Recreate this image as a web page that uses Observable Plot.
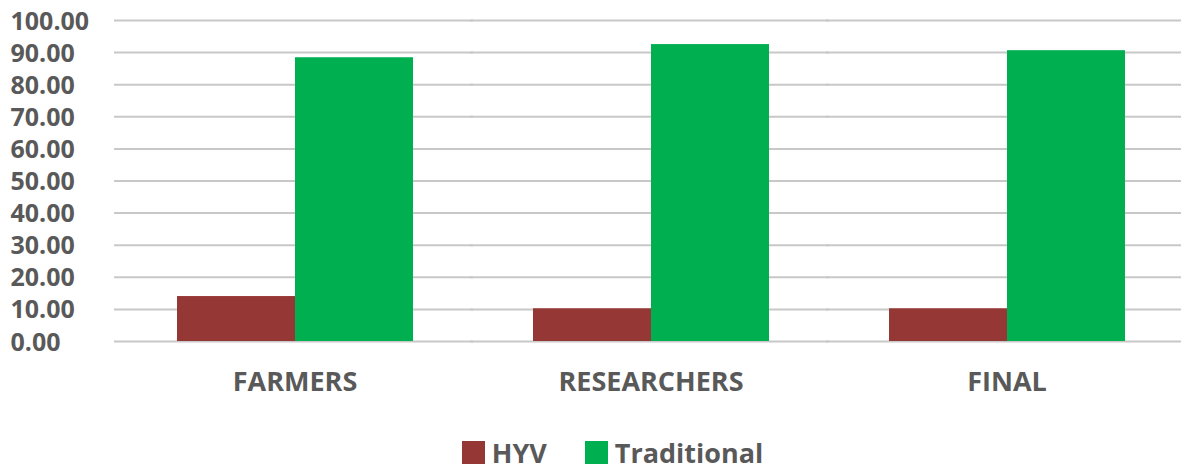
<!DOCTYPE html>
<html><head><meta charset="utf-8">
<script src="https://cdn.jsdelivr.net/npm/d3@7"></script>
<script src="https://cdn.jsdelivr.net/npm/@observablehq/plot@0.6"></script>
<style>
body{margin:0;background:#fff;font-family:"Open Sans",sans-serif;}
#legend{display:flex;justify-content:center;gap:38px;margin-top:29px;font:bold 27px "Open Sans",sans-serif;color:#595959;padding-left:44px}
#legend span{display:flex;align-items:center;gap:7px}
#legend i{display:inline-block;width:23px;height:23px}
</style></head><body>
<div id="chart"></div>
<script>
const categories = ["FARMERS", "RESEARCHERS", "FINAL"];
const series = ["HYV", "Traditional"];
const hyv = [14.0, 10.2, 10.2];
const traditional = [88.4, 92.5, 90.6];
const yTicks = [0, 10, 20, 30, 40, 50, 60, 70, 80, 90, 100];
const colors = ["#953735", "#00B050"];

const data = categories.flatMap((c, i) => [
  {category: c, series: "HYV", value: hyv[i]},
  {category: c, series: "Traditional", value: traditional[i]}
]);

const chart = Plot.plot({
  width: 1181,
  height: 405,
  marginLeft: 116,
  marginRight: -4,
  marginTop: 20,
  marginBottom: 64,
  style: {fontFamily: "Open Sans", color: "#595959", background: "#fff", overflow: "visible"},
  fx: {domain: categories, paddingInner: 0.335, paddingOuter: 0.168, label: null},
  x: {domain: series, padding: 0, axis: null},
  y: {domain: [0, 100], ticks: yTicks, label: null},
  color: {domain: series, range: colors},
  marks: [
    Plot.ruleY(yTicks, {stroke: "#c8c8c8", strokeWidth: 2, insetLeft: -62, insetRight: -60}),
    Plot.barY(data, {fx: "category", x: "series", y: "value", fill: "series"}),
    Plot.axisY(yTicks, {tickSize: 0, tickPadding: 0, textAnchor: "start", dx: -166, dy: 1,
      tickFormat: d => d.toFixed(2), fontSize: 25, fontWeight: "bold", fill: "#595959", label: null}),
    Plot.axisFx({anchor: "bottom", tickSize: 0, tickPadding: 30, fontSize: 27, fontWeight: "bold", fill: "#595959", label: null})
  ]
});
document.getElementById("chart").appendChild(chart);

const legend = document.createElement("div");
legend.id = "legend";
series.forEach((s, i) => {
  const sp = document.createElement("span");
  sp.innerHTML = `<i style="background:${colors[i]}"></i>${s}`;
  legend.appendChild(sp);
});
document.body.appendChild(legend);
</script>
</body></html>
